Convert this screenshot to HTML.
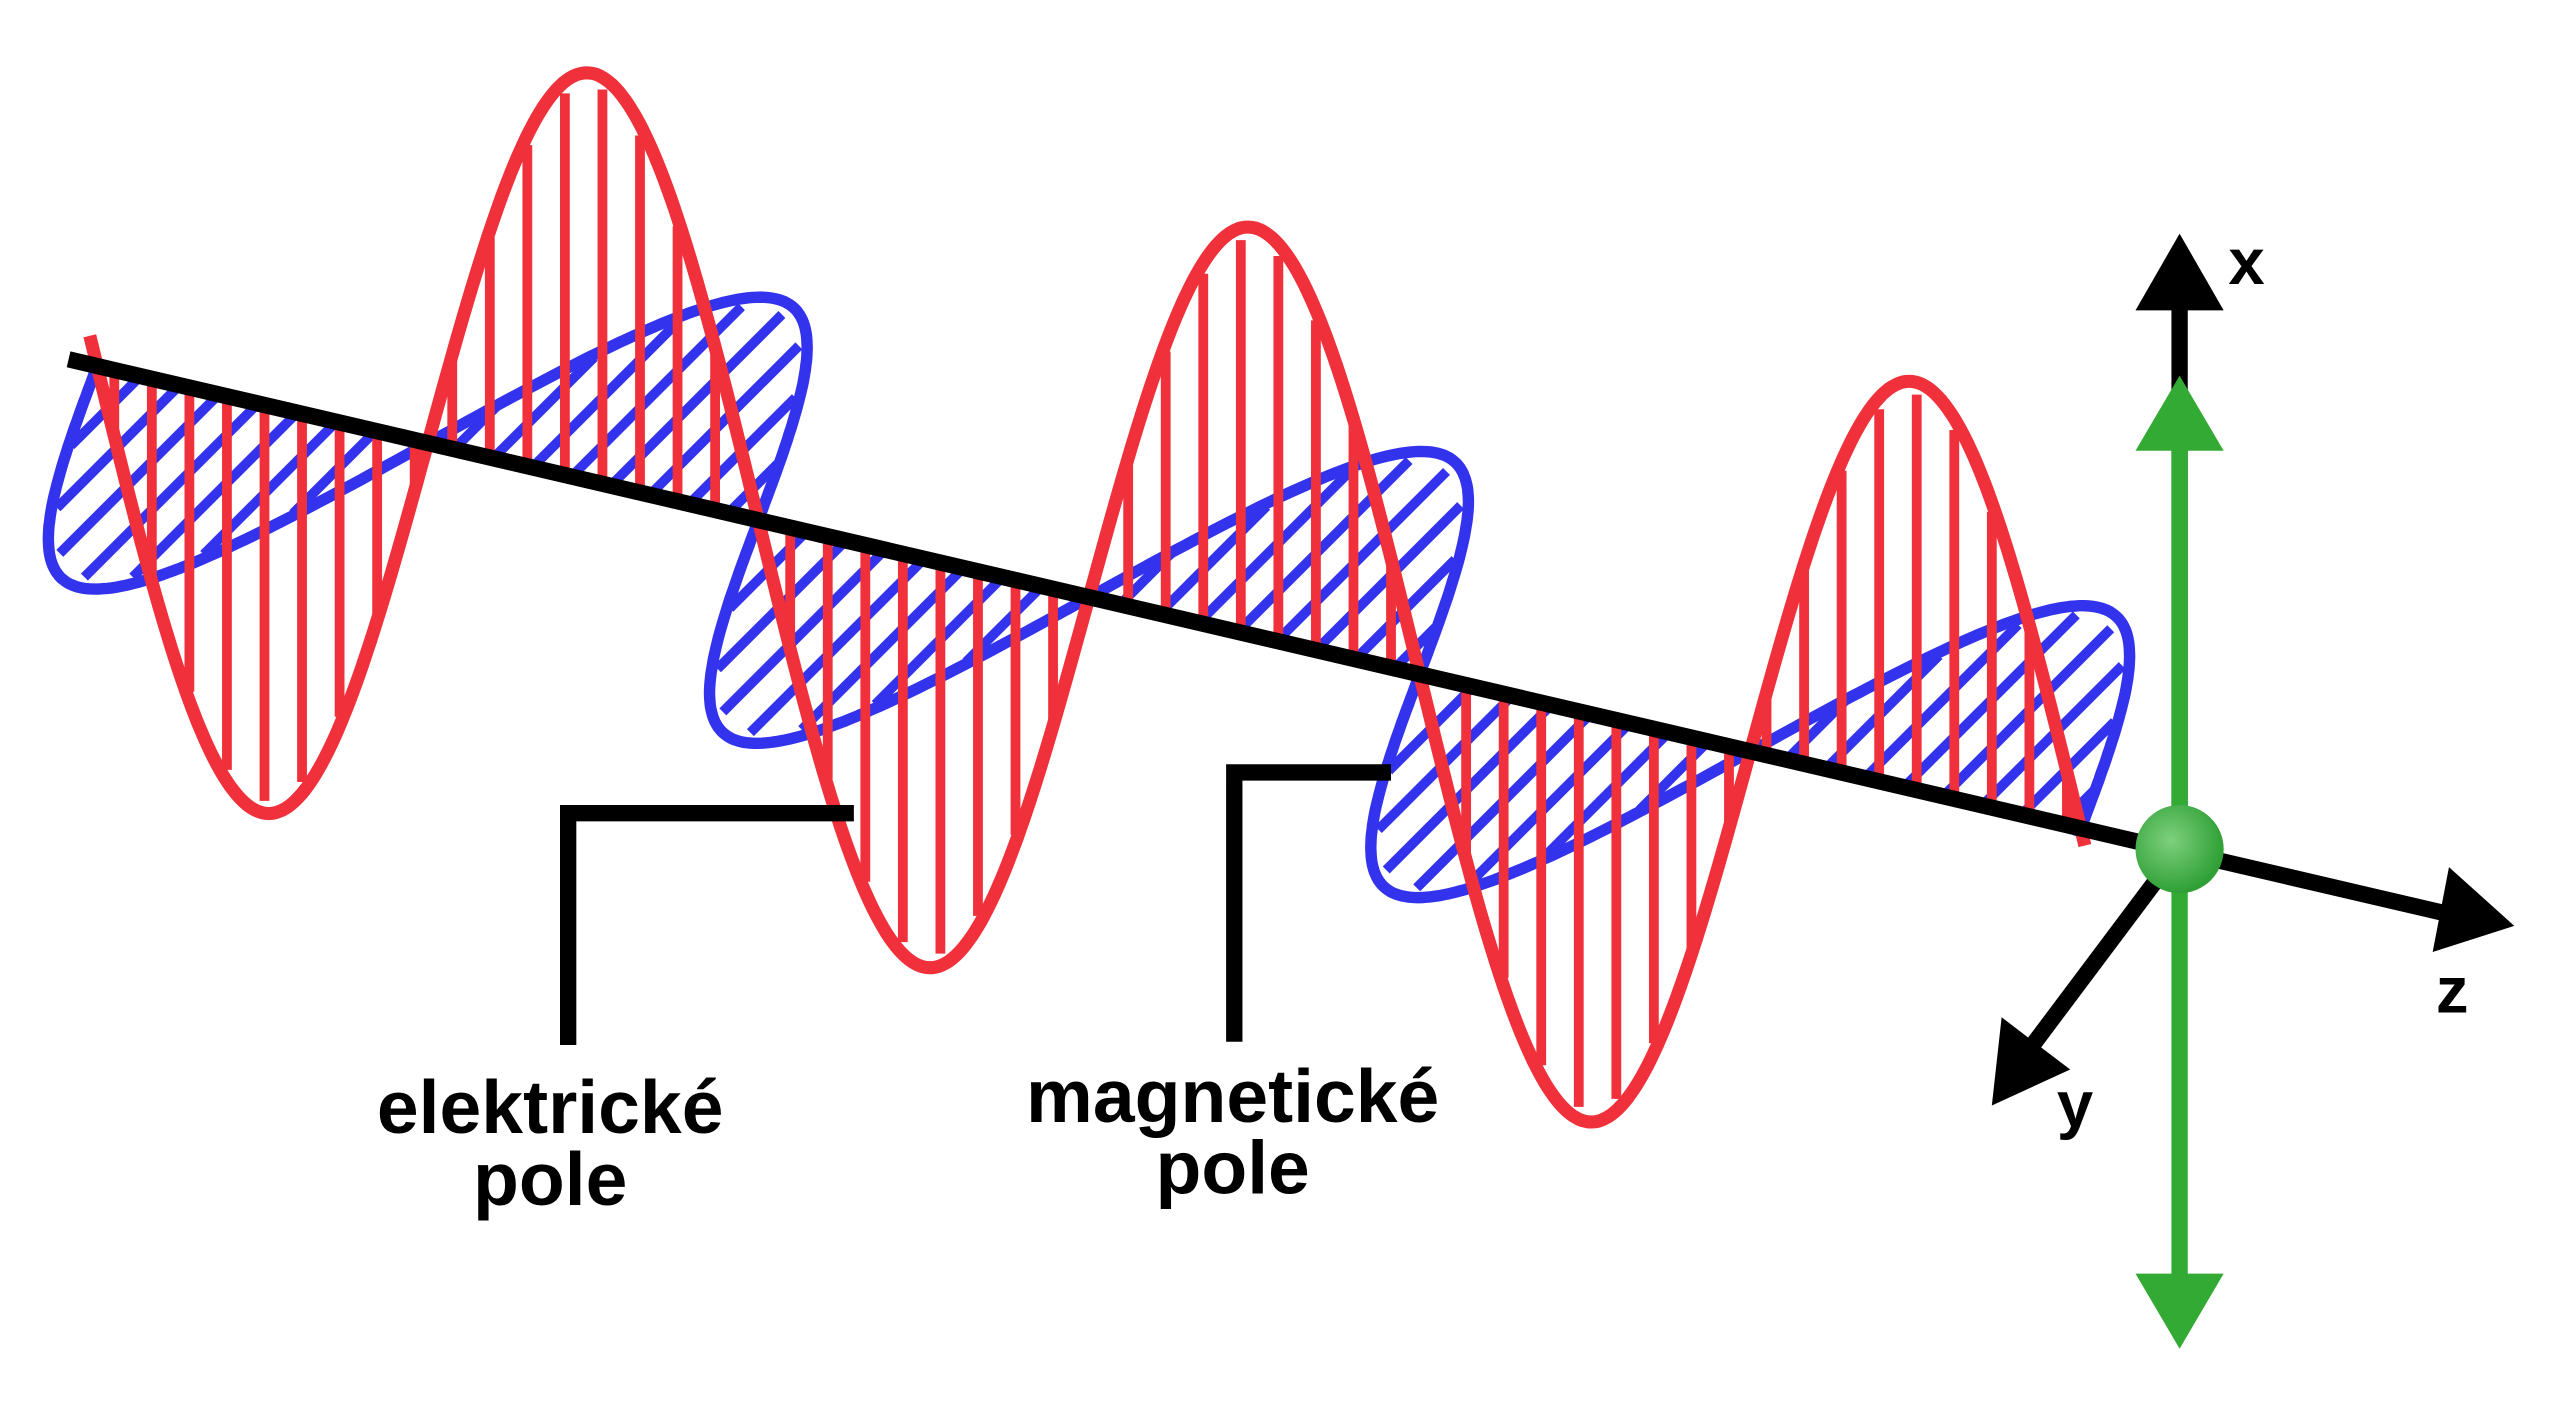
<!DOCTYPE html>
<html><head><meta charset="utf-8"><style>
html,body{margin:0;padding:0;background:#fff;}
svg{display:block;}
text{font-family:"Liberation Sans",sans-serif;font-weight:bold;fill:#000;}
</style></head><body>
<svg id="s" width="2560" height="1424" viewBox="0 0 1568 872" xmlns="http://www.w3.org/2000/svg">
<g id="blue"></g>
<g id="red"></g>
<line x1="42" y1="220" x2="1505" y2="561" stroke="#000" stroke-width="10"/>
<polygon points="1540,567 1500,531 1490,583" fill="#000"/>
<line x1="1335" y1="520" x2="1335" y2="185" stroke="#000" stroke-width="10"/>
<polygon points="1308,190 1335,143 1362,190" fill="#000"/>
<line x1="1335" y1="265" x2="1335" y2="790" stroke="#33aa33" stroke-width="10"/>
<polygon points="1308,276 1335,230 1362,276" fill="#33aa33"/>
<polygon points="1308,780 1335,826 1362,780" fill="#33aa33"/>
<line x1="1335" y1="520" x2="1245" y2="640" stroke="#000" stroke-width="10"/>
<polygon points="1220,677 1226,623 1268,655" fill="#000"/>
<defs><radialGradient id="g" cx="0.4" cy="0.4" r="0.6"><stop offset="0" stop-color="#7ed07e"/><stop offset="1" stop-color="#2fa035"/></radialGradient></defs>
<circle cx="1335" cy="520" r="27" fill="url(#g)"/>
<polyline points="348,640 348,498 523,498" fill="none" stroke="#000" stroke-width="10"/>
<polyline points="756,638 756,473 852,473" fill="none" stroke="#000" stroke-width="10"/>
<text x="337" y="694" font-size="46" text-anchor="middle">elektrické</text>
<text x="337" y="738" font-size="46" text-anchor="middle">pole</text>
<text x="755" y="687" font-size="46" text-anchor="middle">magnetické</text>
<text x="755" y="731" font-size="46" text-anchor="middle">pole</text>
<text x="1376" y="174" font-size="40" text-anchor="middle">x</text>
<text x="1271" y="690" font-size="40" text-anchor="middle">y</text>
<text x="1502" y="620" font-size="40" text-anchor="middle">z</text>
</svg>
<script>
(function(){
var NS="http://www.w3.org/2000/svg";
function ax(x){return 220+0.2333*(x-42);}
var P=405,X0=262,A=250,dx=112,dy=-112;
function ph(x){return Math.sin(2*Math.PI*(x-X0)/P);}
function el(g,t,a){var e=document.createElementNS(NS,t);for(var k in a)e.setAttribute(k,a[k]);document.getElementById(g).appendChild(e);}
var d="";
for(var x=57;x<=1277;x+=2){var s=ph(x);var px=x+s*dx,py=ax(x)+s*dy;d+=(x==57?"M":"L")+px.toFixed(1)+","+py.toFixed(1);}
for(var x=62;x<1277;x+=24){var s=ph(x);if(Math.abs(s)<0.15)continue;
el("blue","line",{x1:x,y1:ax(x),x2:(x+s*dx*0.95),y2:(ax(x)+s*dy*0.95),stroke:"#3333ee","stroke-width":6});}
el("blue","path",{d:d,fill:"none",stroke:"#3333ee","stroke-width":7});
var r="";
for(var x=55;x<=1277;x+=2){var y=ax(x)-A*ph(x);r+=(x==55?"M":"L")+x+","+y.toFixed(1);}
for(var x=70;x<1277;x+=23){var s=ph(x);if(Math.abs(s)<0.1)continue;
el("red","line",{x1:x,y1:ax(x),x2:x,y2:ax(x)-A*s*0.97,stroke:"#f0303a","stroke-width":6});}
el("red","path",{d:r,fill:"none",stroke:"#f0303a","stroke-width":8});
})();
</script>
</body></html>
